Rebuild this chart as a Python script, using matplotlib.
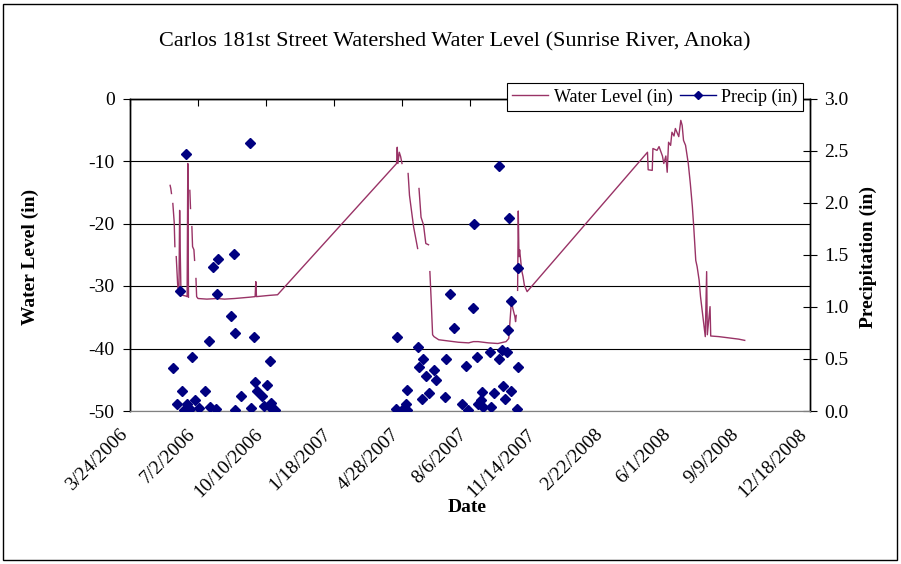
import numpy as np
import pandas as pd
import matplotlib
matplotlib.use("Agg")
import matplotlib.pyplot as plt
import matplotlib.dates as mdates
import matplotlib.transforms as mtransforms
from matplotlib.lines import Line2D
from matplotlib.patches import Rectangle

# water level readings (nan = gap in the logger record)
level_dates = [
    "2006-05-22", "2006-05-23", "2006-05-24", "2006-05-25", "2006-05-26", "2006-05-28",
    "2006-05-29", "2006-05-30", "2006-05-31", "2006-06-02", "2006-06-03", "2006-06-04",
    "2006-06-05", "2006-06-06", "2006-06-07", "2006-06-10", "2006-06-14", "2006-06-16",
    "2006-06-17", "2006-06-18", "2006-06-19", "2006-06-20", "2006-06-21", "2006-06-22",
    "2006-06-23", "2006-06-24", "2006-06-26", "2006-06-27", "2006-06-28", "2006-06-29",
    "2006-06-30", "2006-07-02", "2006-07-15", "2006-07-30", "2006-08-10", "2006-08-25",
    "2006-09-05", "2006-09-15", "2006-09-24", "2006-09-25", "2006-09-26", "2006-10-05",
    "2006-10-15", "2006-10-27",
    "2007-04-20", "2007-04-21", "2007-04-22", "2007-04-24", "2007-04-26", "2007-04-28",
    "2007-04-29", "2007-05-07", "2007-05-09", "2007-05-12", "2007-05-15", "2007-05-21",
    "2007-05-22", "2007-05-23", "2007-05-26", "2007-05-29", "2007-05-30", "2007-06-02",
    "2007-06-06", "2007-06-07", "2007-06-08", "2007-06-10", "2007-06-12", "2007-06-14",
    "2007-06-21", "2007-07-06", "2007-07-20", "2007-08-04", "2007-08-11", "2007-08-18",
    "2007-09-02", "2007-09-16", "2007-09-28", "2007-10-02", "2007-10-06", "2007-10-08",
    "2007-10-11", "2007-10-12", "2007-10-13", "2007-10-14", "2007-10-15", "2007-10-16",
    "2007-10-17", "2007-10-18", "2007-10-21", "2007-10-23", "2007-10-25", "2007-10-29",
    "2008-04-23", "2008-04-24", "2008-04-30", "2008-05-01", "2008-05-07", "2008-05-10",
    "2008-05-15", "2008-05-17", "2008-05-20", "2008-05-22", "2008-05-24", "2008-05-27",
    "2008-05-29", "2008-06-01", "2008-06-03", "2008-06-06", "2008-06-08", "2008-06-11",
    "2008-06-13", "2008-06-15", "2008-06-18", "2008-06-22", "2008-06-25", "2008-06-28",
    "2008-06-30", "2008-07-03", "2008-07-05", "2008-07-08", "2008-07-10", "2008-07-13",
    "2008-07-17", "2008-07-19", "2008-07-20", "2008-07-24", "2008-07-25", "2008-08-06",
    "2008-08-21", "2008-09-04", "2008-09-13",
]
level_in = [
    -13.9, -14.4, -15.2, np.nan, -16.8, -19.8,
    -23.7, np.nan, -25.3, -29.6, -31.0, -30.5,
    -17.9, -25.3, -31.3, -31.5, -31.6, -31.7,
    -10.4, -31.8, np.nan, -14.7, -17.6, np.nan,
    -20.5, -23.7, -24.2, -25.9, np.nan, -28.8,
    -31.7, -32.0, -32.1, -32.0, -32.1, -32.0,
    -31.9, -31.8, -31.7, -29.3, -31.7, -31.6,
    -31.5, -31.4,
    -10.4, -7.8, -10.4, -8.6, -9.3, -10.4,
    np.nan, -12.0, -15.5, -18.0, -20.5, -24.0,
    np.nan, -14.4, -19.0, -20.0, -20.5, -23.2,
    -23.4, np.nan, -27.7, -32.5, -37.8, -38.1,
    -38.6, -38.8, -39.0, -39.1, -38.9, -38.9,
    -39.1, -39.2, -38.9, -38.4, -32.3, -33.6,
    -34.9, -35.7, -34.7, np.nan, -30.7, -18.0,
    -25.3, -24.2, -27.5, -28.5, -29.9, -30.9,
    -8.6, -11.4, -11.5, -8.0, -8.3, -7.7,
    -9.2, -10.4, -9.2, -11.8, -7.0, -7.5,
    -5.4, -6.0, -4.8, -5.6, -6.1, -3.5,
    -4.3, -6.7, -7.5, -10.4, -13.6, -17.3,
    -20.5, -25.9, -26.9, -29.1, -31.7, -34.4,
    -38.1, -27.7, -37.8, -33.3, -38.0, -38.1,
    -38.3, -38.5, -38.7,
]

# daily precipitation
precip_dates = [
    "2006-05-26", "2006-06-01", "2006-06-06", "2006-06-09", "2006-06-11", "2006-06-14",
    "2006-06-16", "2006-06-20", "2006-06-23", "2006-06-27", "2006-07-03", "2006-07-13",
    "2006-07-18", "2006-07-19", "2006-07-24", "2006-07-29", "2006-07-30", "2006-08-01",
    "2006-08-20", "2006-08-24", "2006-08-25", "2006-08-26", "2006-09-03", "2006-09-16",
    "2006-09-18", "2006-09-23", "2006-09-24", "2006-09-27", "2006-10-04", "2006-10-07",
    "2006-10-11", "2006-10-16", "2006-10-17", "2006-10-18", "2006-10-23",
    "2007-04-19", "2007-04-21", "2007-04-29", "2007-05-04", "2007-05-05", "2007-05-06",
    "2007-05-22", "2007-05-23", "2007-05-27", "2007-05-29", "2007-06-02", "2007-06-07",
    "2007-06-14", "2007-06-17", "2007-06-30", "2007-07-02", "2007-07-07", "2007-07-14",
    "2007-07-25", "2007-07-31", "2007-08-03", "2007-08-10", "2007-08-12", "2007-08-17",
    "2007-08-18", "2007-08-22", "2007-08-24", "2007-08-25", "2007-09-05", "2007-09-06",
    "2007-09-11", "2007-09-17", "2007-09-18", "2007-09-22", "2007-09-23", "2007-09-27",
    "2007-09-29", "2007-10-01", "2007-10-03", "2007-10-05", "2007-10-06", "2007-10-14",
    "2007-10-15", "2007-10-16",
]
precip_in = [
    0.41, 0.07, 1.15, 0.19, 0.01, 2.47,
    0.07, 0.02, 0.52, 0.11, 0.03, 0.19,
    0.67, 0.04, 1.38, 0.02, 1.12, 1.46,
    0.91, 1.51, 0.75, 0.01, 0.14, 2.57,
    0.03, 0.71, 0.28, 0.19, 0.14, 0.05,
    0.25, 0.48, 0.03, 0.08, 0.01,
    0.02, 0.71, 0.02, 0.07, 0.20, 0.01,
    0.61, 0.42, 0.12, 0.50, 0.34, 0.17,
    0.39, 0.30, 0.13, 0.50, 1.12, 0.80,
    0.07, 0.43, 0.01, 0.99, 1.80, 0.52,
    0.07, 0.11, 0.18, 0.04, 0.57, 0.04,
    0.17, 2.35, 0.50, 0.59, 0.24, 0.12,
    0.57, 0.78, 1.85, 0.19, 1.06, 0.02,
    0.42, 1.37,
]

x_start, x_end = "2006-03-24", "2008-12-18"
level_ticks = [0, -10, -20, -30, -40, -50]
precip_ticks = [0.0, 0.5, 1.0, 1.5, 2.0, 2.5, 3.0]

plt.rcParams["font.family"] = ["Liberation Serif", "DejaVu Serif"]
plt.rcParams["axes.unicode_minus"] = False

fig = plt.figure(figsize=(9.01, 5.64), dpi=100)
ax = fig.add_axes([130 / 901, 1 - 411 / 564, 680 / 901, 312.5 / 564])
ax2 = ax.twinx()

wl_color = "#993366"
pr_color = "#000080"

ld = mdates.date2num(pd.to_datetime(level_dates))
ax.plot(ld, level_in, color=wl_color, lw=1.0, zorder=3)

pdn = mdates.date2num(pd.to_datetime(precip_dates))
ax2.plot(pdn, precip_in, ls="none", marker="D", ms=5.5, color=pr_color,
         mec=pr_color, zorder=4)

# x axis: ticks every 100 days, marks on the top edge, labels at the bottom
tick_days = pd.date_range(x_start, x_end, freq="100D")
ax.set_xlim(mdates.date2num(pd.Timestamp(x_start)), mdates.date2num(pd.Timestamp(x_end)))
ax.set_xticks(mdates.date2num(tick_days))
ax.set_xticklabels([f"{d.month}/{d.day}/{d.year}" for d in tick_days],
                   rotation=45, ha="right", va="center", rotation_mode="anchor", fontsize=14)
ax.tick_params(axis="x", top=True, bottom=False, labelbottom=True, direction="in",
               length=5, pad=15)
shift = mtransforms.ScaledTranslation(-4 / 72, 0, fig.dpi_scale_trans)
for lbl in ax.get_xticklabels():
    lbl.set_transform(lbl.get_transform() + shift)

ax.set_ylim(-50, 0)
ax.set_yticks(level_ticks)
ax.tick_params(axis="y", direction="out", length=5, labelsize=14, pad=6)
ax.yaxis.grid(True, color="black", lw=0.8)
ax.set_axisbelow(True)

ax2.set_ylim(0, 3.0)
ax2.set_yticks(precip_ticks)
ax2.set_yticklabels([f"{t:.1f}" for t in precip_ticks])
ax2.tick_params(axis="y", direction="inout", length=10, labelsize=14, pad=5)

for a in (ax, ax2):
    a.spines["bottom"].set_color("#808080")
    for s in ("top", "left", "right"):
        a.spines[s].set_color("black")
        a.spines[s].set_linewidth(1.0)

fig.text(0.505, 1 - 42 / 564, "Carlos 181st Street Watershed Water Level (Sunrise River, Anoka)",
         ha="center", va="center", fontsize=16)
fig.text(0.034, 0.545, "Water Level (in)", rotation=90, ha="center", va="center",
         fontsize=14, fontweight="bold")
fig.text(0.964, 0.545, "Precipitation (in)", rotation=90, ha="center", va="center",
         fontsize=14, fontweight="bold")
fig.text(0.519, 1 - 507 / 564, "Date", ha="center", va="center", fontsize=14,
         fontweight="bold")

handles = [Line2D([], [], color=wl_color, lw=1.0),
           Line2D([], [], color=pr_color, lw=1.0, marker="D", ms=4)]
leg = fig.legend(handles, ["Water Level (in)", "Precip (in)"], loc="upper right",
                 bbox_to_anchor=(803 / 901, 1 - 83 / 564), ncol=2, fontsize=13,
                 frameon=True, fancybox=False, edgecolor="black", framealpha=1,
                 borderpad=0.3, handlelength=2.0, handletextpad=0.3, columnspacing=0.4,
                 borderaxespad=0)
leg.get_frame().set_linewidth(0.8)

fig.patches.append(Rectangle((3 / 901, 4 / 564), 894 / 901, 556 / 564, transform=fig.transFigure,
                             fill=False, edgecolor="black", lw=1.0))

fig.savefig("out.png", dpi=100)
